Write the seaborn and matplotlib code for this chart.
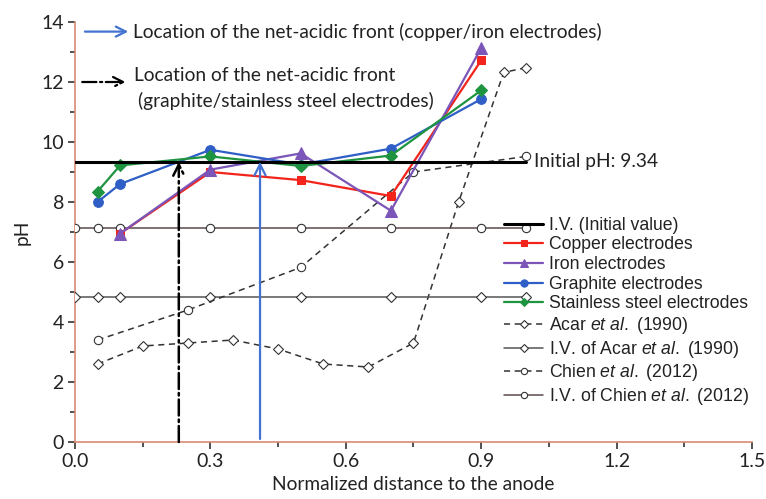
import matplotlib
matplotlib.use("Agg")
import matplotlib.pyplot as plt
import seaborn as sns
import pandas as pd

# ---------------- data ----------------
x_elec = [0.1, 0.3, 0.5, 0.7, 0.9]
copper = [6.95, 9.0, 8.73, 8.2, 12.72]
iron = [6.95, 9.08, 9.62, 7.71, 13.13]
x_elec2 = [0.05, 0.1, 0.3, 0.5, 0.7, 0.9]
graphite = [8.0, 8.6, 9.74, 9.25, 9.78, 11.43]
stainless = [8.35, 9.22, 9.52, 9.2, 9.55, 11.72]

x_iv = [0.0, 1.0]
iv_value = [9.34, 9.34]

x_acar = [0.05, 0.15, 0.25, 0.35, 0.45, 0.55, 0.65, 0.75, 0.85, 0.95, 1.0]
acar = [2.6, 3.2, 3.3, 3.4, 3.1, 2.6, 2.5, 3.3, 8.0, 12.32, 12.48]
x_ref_iv = [0.0, 0.05, 0.1, 0.3, 0.5, 0.7, 0.9, 1.0]
acar_iv = [4.85] * 8
x_chien = [0.05, 0.25, 0.5, 0.75, 1.0]
chien = [3.4, 4.4, 5.82, 9.0, 9.52]
chien_iv = [7.15] * 8

front_copper_iron = 0.41
front_graphite_ss = 0.23

xticks = [0.0, 0.3, 0.6, 0.9, 1.2, 1.5]
yticks = [0, 2, 4, 6, 8, 10, 12, 14]

# ---------------- style ----------------
sns.set_theme(style="white")
plt.rcParams['font.family'] = ['Lato', 'DejaVu Sans']
plt.rcParams['mathtext.fontset'] = 'custom'
plt.rcParams['mathtext.rm'] = 'Liberation Sans'
plt.rcParams['mathtext.it'] = 'Liberation Sans:italic'

fig = plt.figure(figsize=(7.66, 4.99), dpi=100)
ax = fig.add_axes([0.0979, 0.1142, 0.8838, 0.8417])

RED = '#f2241c'
PURPLE = '#7b55b8'
BLUE = '#2f5fc6'
GREEN = '#1e9440'
DARK = '#333333'
TXT = '#222222'
FS = 13.8

def line(x, y, **kw):
    sns.lineplot(x=x, y=y, ax=ax, sort=False, estimator=None, **kw)

line(x_iv, iv_value, color='black', lw=2.2, label='I.V. (Initial value)', zorder=6)
line(x_elec, copper, color=RED, lw=1.6, marker='s', markersize=6,
     markeredgecolor=RED, label='Copper electrodes', zorder=4)
line(x_elec, iron, color=PURPLE, lw=1.6, marker='^', markersize=8,
     markeredgecolor=PURPLE, label='Iron electrodes', zorder=4)
line(x_elec2, graphite, color=BLUE, lw=1.6, marker='o', markersize=7,
     markeredgecolor=BLUE, label='Graphite electrodes', zorder=4)
line(x_elec2, stainless, color=GREEN, lw=1.6, marker='D', markersize=6,
     markeredgecolor=GREEN, label='Stainless steel electrodes', zorder=4)
line(x_acar, acar, color=DARK, lw=1.1, linestyle=(0, (4, 3)), marker='D', markersize=5.5,
     markerfacecolor='white', markeredgecolor=DARK, markeredgewidth=0.8,
     label=r'Acar $\it{et\ al.}$ (1990)', zorder=3)
line(x_ref_iv, acar_iv, color='#555555', lw=1.1, marker='D', markersize=5.5,
     markerfacecolor='white', markeredgecolor=DARK, markeredgewidth=0.8,
     label=r'I.V. of Acar $\it{et\ al.}$ (1990)', zorder=3)
line(x_chien, chien, color=DARK, lw=1.1, linestyle=(0, (4, 3)), marker='o', markersize=6,
     markerfacecolor='white', markeredgecolor=DARK, markeredgewidth=0.8,
     label=r'Chien $\it{et\ al.}$ (2012)', zorder=3)
line(x_ref_iv, chien_iv, color='#5a4a4a', lw=1.1, marker='o', markersize=6,
     markerfacecolor='white', markeredgecolor=DARK, markeredgewidth=0.8,
     label=r'I.V. of Chien $\it{et\ al.}$ (2012)', zorder=3)

# vertical arrows marking the fronts
ax.annotate('', xy=(front_copper_iron, 9.34), xytext=(front_copper_iron, 0.1),
            arrowprops=dict(arrowstyle='->', color='#4472d0', lw=1.6,
                            mutation_scale=20, shrinkA=0, shrinkB=0), zorder=7)
ax.annotate('', xy=(front_graphite_ss, 9.34), xytext=(front_graphite_ss, 0.0),
            arrowprops=dict(arrowstyle='->', color='black', lw=1.8, linestyle='-.',
                            mutation_scale=20, shrinkA=0, shrinkB=0), zorder=7)

# top annotations
ax.annotate('', xy=(0.118, 13.68), xytext=(0.022, 13.68),
            arrowprops=dict(arrowstyle='->', color='#4472d0', lw=1.6,
                            mutation_scale=18, shrinkA=0, shrinkB=0))
ax.text(0.129, 13.68, 'Location of the net-acidic front (copper/iron electrodes)',
        fontsize=FS, color=TXT, va='center', ha='left')
ax.annotate('', xy=(0.112, 12.0), xytext=(0.016, 12.0),
            arrowprops=dict(arrowstyle='->', color='black', lw=1.6, linestyle='-.',
                            mutation_scale=18, shrinkA=0, shrinkB=0))
ax.text(0.131, 12.22, 'Location of the net-acidic front',
        fontsize=FS, color=TXT, va='center', ha='left')
ax.text(0.14, 11.36, '(graphite/stainless steel electrodes)',
        fontsize=FS, color=TXT, va='center', ha='left')
ax.text(1.018, 9.34, 'Initial pH: 9.34', fontsize=FS, color=TXT,
        va='center', ha='left')

# axes
ax.set_xlim(0, 1.5)
ax.set_ylim(0, 14)
ax.set_xticks(xticks)
ax.set_xticklabels([f'{t:.1f}' for t in xticks])
ax.set_yticks(yticks)
ax.set_yticklabels([str(t) for t in yticks])
ax.set_xticks([0.15, 0.45, 0.75, 1.05, 1.35], minor=True)
ax.set_yticks([1, 3, 5, 7, 9, 11, 13], minor=True)
ax.tick_params(axis='both', which='major', direction='out', length=5, width=1.2,
               color=DARK, labelsize=14, labelcolor=TXT, pad=3,
               bottom=True, left=True)
ax.tick_params(axis='both', which='minor', direction='out', length=3.5, width=1.2,
               color=DARK, bottom=True, left=True)
for s in ['top', 'right']:
    ax.spines[s].set_visible(False)
for s in ['left', 'bottom']:
    ax.spines[s].set_color('#d98a74')
    ax.spines[s].set_linewidth(1.2)
ax.set_xlabel('Normalized distance to the anode', fontsize=FS, color=TXT, labelpad=4)
ax.set_ylabel('pH', fontsize=FS, color=TXT, labelpad=8)

leg = ax.legend(loc='upper left', bbox_to_anchor=(0.623, 0.553), frameon=False,
                handlelength=2.25, handletextpad=0.3,
                labelspacing=0.15, borderaxespad=0,
                prop={'family': 'Liberation Sans', 'size': 12.7})
for t in leg.get_texts():
    t.set_color(TXT)
for h in leg.legend_handles:
    try:
        h.set_markersize(h.get_markersize() * 0.75)
    except Exception:
        pass

fig.savefig('out.png', dpi=100)
